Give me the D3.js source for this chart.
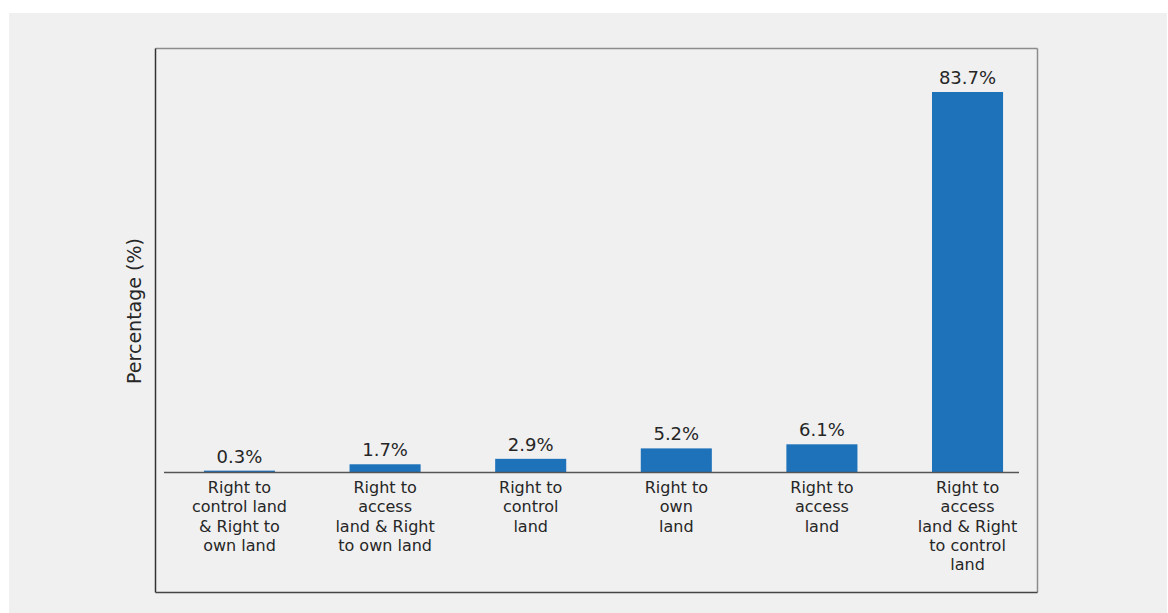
<!DOCTYPE html>
<html>
<head>
<meta charset="utf-8">
<script src="https://cdn.jsdelivr.net/npm/d3@7"></script>
<style>
  body { margin: 0; background: #fff; }
  text { font-family: "DejaVu Sans", sans-serif; fill: #262626; }
</style>
</head>
<body>
<script>
// data
const categories = [
  "Right to control land & Right to own land",
  "Right to access land & Right to own land",
  "Right to control land",
  "Right to own land",
  "Right to access land",
  "Right to access land & Right to control land"
];
const values = [0.3, 1.7, 2.9, 5.2, 6.1, 83.7];
// how the tick labels wrap in the picture
const tickLines = [
  ["Right to", "control land", "& Right to", "own land"],
  ["Right to", "access", "land & Right", "to own land"],
  ["Right to", "control", "land"],
  ["Right to", "own", "land"],
  ["Right to", "access", "land"],
  ["Right to", "access", "land & Right", "to control", "land"]
];
const yTitle = "Percentage (%)";

let width = 1168, height = 613;
let svg = d3.select("body").append("svg")
    .attr("width", width)
    .attr("height", height);

// gray panel
svg.append("rect")
    .attr("x", 9).attr("y", 13)
    .attr("width", 1158).attr("height", 600)
    .attr("fill", "#f0f0f0");

// frame: lighter top/right, darker left/bottom
let box = {x0: 155.5, y0: 48.5, x1: 1037.5, y1: 592.5};
svg.append("line").attr("x1", box.x0).attr("x2", box.x1).attr("y1", box.y0).attr("y2", box.y0)
    .attr("stroke", "#8c8c8c").attr("stroke-width", 1.5);
svg.append("line").attr("x1", box.x1).attr("x2", box.x1).attr("y1", box.y0).attr("y2", box.y1)
    .attr("stroke", "#8c8c8c").attr("stroke-width", 1.5);
svg.append("line").attr("x1", box.x0).attr("x2", box.x0).attr("y1", box.y0).attr("y2", box.y1)
    .attr("stroke", "#333").attr("stroke-width", 1.5);
svg.append("line").attr("x1", box.x0).attr("x2", box.x1).attr("y1", box.y1).attr("y2", box.y1)
    .attr("stroke", "#444").attr("stroke-width", 1.5);

// scales
let x = d3.scaleBand()
    .domain(categories)
    .range([169, 1038])
    .paddingInner(0.512)
    .paddingOuter(0.24);

let y = d3.scaleLinear()
    .domain([0, 83.7])
    .range([472, 92]);

// bars
svg.append("g")
    .selectAll("rect")
    .data(categories)
    .join("rect")
    .attr("x", d => x(d))
    .attr("width", x.bandwidth())
    .attr("y", (d, i) => y(values[i]))
    .attr("height", (d, i) => y(0) - y(values[i]))
    .attr("fill", "#1e72ba");

// bottom axis line
svg.append("line")
    .attr("x1", 164).attr("x2", 1019)
    .attr("y1", y(0) + 0.5).attr("y2", y(0) + 0.5)
    .attr("stroke", "#555").attr("stroke-width", 1.3);

// value labels
svg.append("g")
    .selectAll("text")
    .data(categories)
    .join("text")
    .attr("x", d => x(d) + x.bandwidth() / 2)
    .attr("y", (d, i) => y(values[i]) - 8)
    .attr("text-anchor", "middle")
    .style("font-size", "18px")
    .text((d, i) => values[i].toFixed(1) + "%");

// category labels
let ticks = svg.append("g")
    .selectAll("text")
    .data(categories)
    .join("text")
    .attr("text-anchor", "middle")
    .style("font-size", "16px")
    .attr("transform", d => "translate(" + (x(d) + x.bandwidth() / 2) + ",493)");
ticks.selectAll("tspan")
    .data((d, i) => tickLines[i])
    .join("tspan")
    .attr("x", 0)
    .attr("y", (d, i) => i * 19.3)
    .text(d => d);

// y title
svg.append("text")
    .attr("transform", "translate(141,311) rotate(-90)")
    .attr("text-anchor", "middle")
    .style("font-size", "19px")
    .text(yTitle);
</script>
</body>
</html>
